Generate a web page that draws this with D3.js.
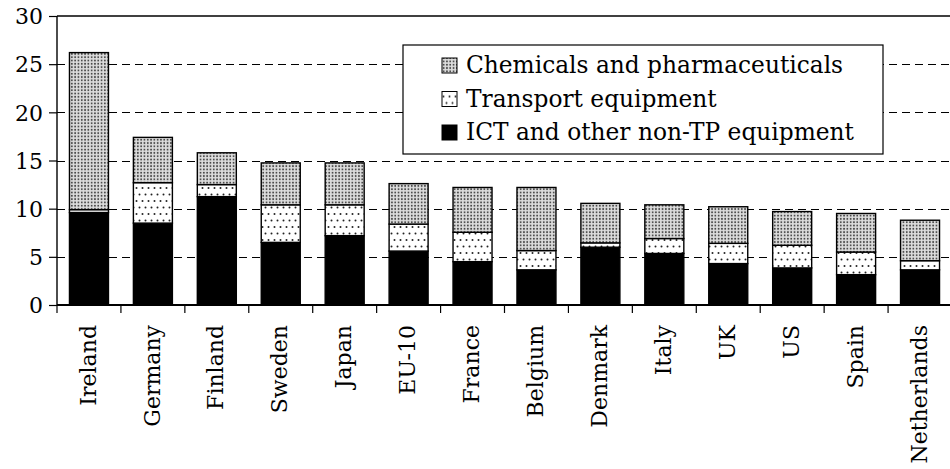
<!DOCTYPE html>
<html>
<head>
<meta charset="utf-8">
<script src="https://cdn.jsdelivr.net/npm/d3@7"></script>
<style>
  body { margin: 0; background: #fff; }
  svg text { font-family: "DejaVu Serif", serif; fill: #000; }
</style>
</head>
<body>
<svg id="chart" width="950" height="469"></svg>
<script>
var categories = ["Ireland", "Germany", "Finland", "Sweden", "Japan", "EU-10", "France",
  "Belgium", "Denmark", "Italy", "UK", "US", "Spain", "Netherlands"]

// stacked segments, bottom to top
var ict       = [9.6, 8.5, 11.25, 6.5, 7.2, 5.6, 4.5, 3.65, 6.0, 5.35, 4.3, 3.85, 3.15, 3.65]
var transport = [0.3, 4.2, 1.25, 3.9, 3.2, 2.8, 3.05, 2.0, 0.45, 1.55, 2.1, 2.35, 2.35, 0.95]
var chemicals = [16.3, 4.7, 3.3, 4.35, 4.35, 4.2, 4.65, 6.55, 4.1, 3.5, 3.8, 3.5, 4.0, 4.2]

var seriesNames = ["ICT and other non-TP equipment", "Transport equipment", "Chemicals and pharmaceuticals"]
var seriesKeys = ["ict", "transport", "chemicals"]
var yTicks = [0, 5, 10, 15, 20, 25, 30]

var margin = {top: 16, right: 0, bottom: 164, left: 57},
    width = 952 - margin.left,
    height = 469 - margin.top - margin.bottom

var svg = d3.select('#chart')

// fill patterns
var defs = svg.append('defs')
var pt = defs.append('pattern')
  .attr('id', 'pat-transport')
  .attr('patternUnits', 'userSpaceOnUse')
  .attr('width', 6).attr('height', 13)
pt.append('rect').attr('width', 6).attr('height', 13).attr('fill', '#fff')
pt.append('circle').attr('cx', 1.5).attr('cy', 3).attr('r', 1).attr('fill', '#222')
pt.append('circle').attr('cx', 4.5).attr('cy', 9.5).attr('r', 1).attr('fill', '#222')

var pc = defs.append('pattern')
  .attr('id', 'pat-chem')
  .attr('patternUnits', 'userSpaceOnUse')
  .attr('width', 3.3).attr('height', 3.3)
pc.append('rect').attr('width', 3.3).attr('height', 3.3).attr('fill', '#dcdcdc')
pc.append('circle').attr('cx', 1.65).attr('cy', 1.65).attr('r', 0.95).attr('fill', '#444')

var fills = {ict: '#000', transport: 'url(#pat-transport)', chemicals: 'url(#pat-chem)'}

var data = categories.map(function(c, i) {
  return {category: c, ict: ict[i], transport: transport[i], chemicals: chemicals[i]}
})

var x = d3.scaleBand()
  .domain(categories)
  .range([0, width])
  .paddingInner(0.39)
  .paddingOuter(0.195)

var y = d3.scaleLinear()
  .domain([0, 30])
  .range([height, 0])

var g = svg.append('g')
  .attr('transform', 'translate(' + margin.left + ',' + margin.top + ')')

// dashed gridlines
g.selectAll('.grid')
  .data(yTicks.filter(function(d) {return d > 0 && d < 30}))
  .enter()
  .append('line')
  .attr('x1', 0).attr('x2', width)
  .attr('y1', function(d) {return Math.round(y(d)) + 0.5})
  .attr('y2', function(d) {return Math.round(y(d)) + 0.5})
  .attr('stroke', '#000')
  .attr('stroke-width', 1)
  .attr('stroke-dasharray', '8,5')

// top border
g.append('line')
  .attr('x1', 0).attr('x2', width)
  .attr('y1', y(30)).attr('y2', y(30))
  .attr('stroke', '#000').attr('stroke-width', 1.3)

// stacks
var stack = d3.stack().keys(seriesKeys)
var layers = stack(data)

g.selectAll('.layer')
  .data(layers)
  .enter()
  .append('g')
  .attr('class', 'layer')
  .attr('fill', function(d) {return fills[d.key]})
  .selectAll('rect')
  .data(function(d) {return d})
  .enter()
  .append('rect')
  .attr('x', function(d) {return x(d.data.category)})
  .attr('width', x.bandwidth())
  .attr('y', function(d) {return y(d[1])})
  .attr('height', function(d) {return y(d[0]) - y(d[1])})
  .attr('stroke', '#000')
  .attr('stroke-width', 1.4)

// y axis
var yAxis = d3.axisLeft(y).tickValues(yTicks).tickSize(8).tickPadding(6)
var ya = g.append('g').call(yAxis)
ya.select('.domain').attr('stroke-width', 1.4).attr('d', 'M0,' + y(0) + 'V' + y(30))
ya.selectAll('.tick line').attr('stroke-width', 1.2)
ya.selectAll('text').style('font-size', '22px').attr('dy', '0.35em')

// x axis
var xa = g.append('g').attr('transform', 'translate(0,' + height + ')')
xa.append('line')
  .attr('x1', 0).attr('x2', width)
  .attr('stroke', '#000').attr('stroke-width', 2)
var step = x.step()
xa.selectAll('.xtick')
  .data(categories)
  .enter()
  .append('line')
  .attr('x1', function(d) {return x(d) - step * 0.195})
  .attr('x2', function(d) {return x(d) - step * 0.195})
  .attr('y1', 0).attr('y2', 8)
  .attr('stroke', '#000').attr('stroke-width', 1.2)
xa.selectAll('.xlabel')
  .data(categories)
  .enter()
  .append('text')
  .attr('transform', function(d) {return 'translate(' + (x(d) + x.bandwidth() / 2) + ',20) rotate(-90)'})
  .attr('text-anchor', 'end')
  .attr('dy', '0.3em')
  .style('font-size', '22px')
  .text(function(d) {return d})

// legend
var legend = svg.append('g').attr('transform', 'translate(403,45)')
legend.append('rect')
  .attr('width', 480).attr('height', 109)
  .attr('fill', '#fff').attr('stroke', '#000').attr('stroke-width', 1.2)

var legendOrder = ["chemicals", "transport", "ict"]
var li = legend.selectAll('.item')
  .data(legendOrder)
  .enter()
  .append('g')
  .attr('transform', function(d, i) {return 'translate(39,' + (28 + i * 33.5) + ')'})
li.append('rect')
  .attr('x', 0).attr('y', -15)
  .attr('width', 15).attr('height', 15)
  .attr('fill', function(d) {return fills[d]})
  .attr('stroke', '#000').attr('stroke-width', 1)
li.append('text')
  .attr('x', 24)
  .style('font-size', '23.3px')
  .text(function(d) {return seriesNames[seriesKeys.indexOf(d)]})
</script>
</body>
</html>
